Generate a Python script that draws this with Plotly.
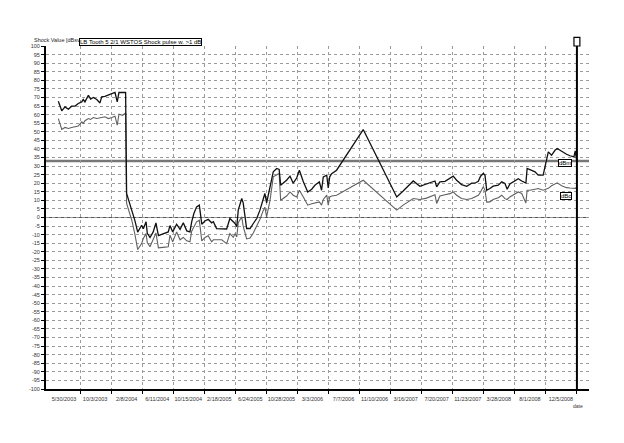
import plotly.graph_objects as go

# ---------------- data ----------------
dates = [
    "2003-03-03", "2003-03-17", "2003-03-30", "2003-04-13", "2003-04-26", "2003-05-10", "2003-05-23",
    "2003-06-06", "2003-06-12", "2003-06-19", "2003-07-03", "2003-07-12", "2003-07-23", "2003-08-06",
    "2003-08-19", "2003-08-26", "2003-09-08", "2003-09-22", "2003-10-06", "2003-10-19", "2003-10-28",
    "2003-11-04", "2003-11-19", "2003-12-01", "2003-12-05", "2003-12-26", "2004-01-08", "2004-01-19",
    "2004-02-04", "2004-02-11", "2004-02-22", "2004-02-27", "2004-03-09", "2004-03-22", "2004-04-02",
    "2004-04-12", "2004-04-25", "2004-05-09", "2004-05-22", "2004-05-29", "2004-06-09", "2004-06-25",
    "2004-07-09", "2004-07-22", "2004-08-05", "2004-08-18", "2004-08-25", "2004-09-03", "2004-09-14",
    "2004-09-25", "2004-10-05", "2004-10-18", "2004-10-31", "2004-11-14", "2004-11-21", "2004-12-04",
    "2004-12-25", "2005-01-14", "2005-01-27", "2005-02-10", "2005-02-17", "2005-02-24", "2005-03-02",
    "2005-03-16", "2005-03-22", "2005-04-05", "2005-04-19", "2005-05-02", "2005-05-16", "2005-05-29",
    "2005-06-12", "2005-06-18", "2005-06-25", "2005-07-09", "2005-07-22", "2005-08-05", "2005-08-15",
    "2005-08-21", "2005-09-01", "2005-09-14", "2005-09-28", "2005-10-11", "2005-10-25", "2005-11-05",
    "2005-11-21", "2005-12-09", "2005-12-25", "2006-01-07", "2006-01-25", "2006-02-03", "2006-02-10",
    "2006-02-24", "2006-03-02", "2006-03-08", "2006-03-16", "2006-04-05", "2006-07-22", "2006-12-05",
    "2006-12-31", "2007-02-10", "2007-03-09", "2007-04-05", "2007-05-09", "2007-05-16", "2007-05-29",
    "2007-06-19", "2007-07-09", "2007-07-22", "2007-08-05", "2007-08-25", "2007-09-15", "2007-10-05",
    "2007-10-18", "2007-11-01", "2007-11-10", "2007-11-21", "2007-11-28", "2007-12-05", "2007-12-18",
    "2007-12-31", "2008-01-21", "2008-02-04", "2008-02-17", "2008-02-26", "2008-03-08", "2008-03-28",
    "2008-04-11", "2008-04-25", "2008-05-12", "2008-05-17", "2008-05-28", "2008-06-18", "2008-07-01",
    "2008-07-21", "2008-08-01", "2008-08-11", "2008-08-24", "2008-09-07", "2008-09-16", "2008-10-04",
    "2008-10-24", "2008-11-07", "2008-11-23", "2008-11-28", "2008-12-04",
]

dbm = [
    67.8, 62.2, 64.5, 63.1, 64.9, 65.0, 66.5,
    67.4, 68.8, 67.4, 71.3, 69.0, 70.0, 68.8,
    66.8, 70.3, 70.6, 71.3, 72.3, 72.9, 67.4,
    72.9, 73.0, 72.9, 14.0, 4.3, -2.0, -8.5,
    -4.5, -6.5, -2.5, -9.2, -11.7, -8.4, -3.1,
    -10.6, -9.8, -8.8, -8.4, -4.7, -8.4, -3.9,
    -6.9, -3.1, -7.8, -8.4, -2.5, 2.3, 6.2,
    7.2, -3.9, -2.0, -1.0, -3.1, -2.5, -6.5,
    -6.7, -6.7, -0.6, -2.5, -3.5, -5.4, 4.3,
    11.1, 8.5, -6.4, -6.4, -3.5, -0.6, 4.3,
    11.1, 14.0, 8.5, 17.9, 26.6, 28.6, 28.0,
    18.8, 20.0, 21.7, 24.1, 20.0, 23.0, 27.6,
    20.8, 14.9, 16.5, 18.8, 20.8, 15.9, 23.7,
    24.7, 17.2, 23.7, 25.5, 27.6, 51.3, 12.0,
    15.5, 21.3, 18.2, 19.5, 21.3, 17.9, 20.8,
    21.1, 22.7, 24.1, 21.7, 19.2, 18.2, 20.0,
    20.0, 21.1, 24.1, 25.7, 24.7, 15.9, 16.9,
    18.3, 18.8, 20.8, 19.8, 16.5, 19.5, 21.3,
    22.6, 21.3, 20.1, 28.6, 28.0, 26.6, 24.7,
    24.7, 31.8, 38.3, 36.3, 39.2, 40.2, 38.5,
    36.9, 36.0, 35.3, 38.8, 33.4,
]

dbc = [
    57.7, 51.3, 52.5, 51.9, 52.5, 52.9, 53.3,
    55.8, 54.9, 56.4, 57.7, 57.2, 58.3, 57.7,
    58.3, 58.3, 58.7, 57.7, 58.3, 59.1, 53.8,
    60.2, 59.6, 61.0, 8.2, -1.6, -10.0, -18.7,
    -15.2, -12.2, -9.4, -14.6, -17.1, -13.0, -9.0,
    -17.7, -17.3, -17.3, -17.1, -10.3, -14.2, -8.4,
    -13.0, -11.6, -13.6, -14.2, -8.0, -5.5, -2.5,
    -1.6, -13.6, -11.6, -10.6, -14.2, -13.0, -13.0,
    -13.0, -15.2, -9.4, -11.6, -9.4, -11.3, -3.0,
    0.4, -5.0, -12.5, -12.0, -9.0, -5.0, -1.0,
    4.3, 6.0, 0.4, 10.1, 23.7, 25.0, 25.7,
    10.1, 11.0, 12.5, 14.9, 13.0, 12.0, 15.9,
    12.0, 7.2, 8.0, 8.5, 9.1, 7.2, 10.5,
    13.0, 7.2, 12.0, 12.5, 13.0, 21.7, 4.3,
    7.2, 11.1, 10.5, 11.3, 13.3, 8.2, 12.5,
    13.3, 13.9, 14.9, 13.0, 11.1, 10.5, 11.1,
    12.0, 13.0, 14.9, 17.9, 16.0, 9.0, 9.1,
    10.5, 11.5, 13.0, 11.0, 10.5, 12.0, 13.5,
    14.9, 14.0, 8.5, 15.9, 15.9, 16.5, 16.9,
    15.9, 16.5, 17.0, 18.5, 19.5, 20.2, 18.5,
    17.4, 17.2, 17.0, 17.0, 17.5,
]

tick_dates = [
    "2003-05-30", "2003-10-03", "2004-02-08", "2004-06-11", "2004-10-15", "2005-02-18",
    "2005-06-24", "2005-10-28", "2006-03-03", "2006-07-07", "2006-11-10", "2007-03-16",
    "2007-07-20", "2007-11-23", "2008-03-28", "2008-08-01", "2008-12-05",
]
tick_labels = [
    "5/30/2003", "10/3/2003", "2/8/2004", "6/11/2004", "10/15/2004", "2/18/2005",
    "6/24/2005", "10/28/2005", "3/3/2006", "7/7/2006", "11/10/2006", "3/16/2007",
    "7/20/2007", "11/23/2007", "3/28/2008", "8/1/2008", "12/5/2008",
]
y_ticks = list(range(100, -101, -5))
y_labels = [str(v) for v in y_ticks]

alarm_level = 33
cursor_date = "2008-12-05"
x_range = ["2003-01-12", "2009-01-23"]

title_text = "LB Tooth 5 2/1 WSTOS Shock pulse w. >1 dB"
y_title = "Shock Value [dBsv]"

# ---------------- figure ----------------
FONT = "Liberation Sans, Arial, sans-serif"
fig = go.Figure()

fig.add_trace(go.Scatter(x=dates, y=dbc, mode="lines", name="dBc",
                         line=dict(color="#606060", width=1.1), showlegend=False))
fig.add_trace(go.Scatter(x=dates, y=dbm, mode="lines", name="dBm",
                         line=dict(color="#111111", width=1.3), showlegend=False))

# reference lines
fig.add_shape(type="line", xref="paper", x0=0, x1=1, yref="y", y0=0, y1=0,
              line=dict(color="#555555", width=1), layer="below")
fig.add_shape(type="line", xref="paper", x0=0, x1=1, yref="y", y0=alarm_level, y1=alarm_level,
              line=dict(color="#777777", width=2.5), layer="below")
# cursor
fig.add_shape(type="line", xref="x", x0=cursor_date, x1=cursor_date, yref="paper", y0=0, y1=1,
              line=dict(color="#000000", width=2))
fig.add_shape(type="rect", xref="x", x0="2008-11-23", x1="2008-12-17", yref="paper", y0=1.0, y1=1.025,
              line=dict(color="#000000", width=1.2), fillcolor="white")

# end labels
fig.add_annotation(x="2008-10-18", y=31.6, xref="x", yref="y", text="dBm", showarrow=False,
                   font=dict(size=6, color="#000", family=FONT), bordercolor="#000",
                   borderwidth=1, borderpad=0, bgcolor="white")
fig.add_annotation(x="2008-10-20", y=12.4, xref="x", yref="y", text="dBc", showarrow=False,
                   font=dict(size=6, color="#000", family=FONT), bordercolor="#000",
                   borderwidth=1, borderpad=0, bgcolor="white")

# titles
fig.add_annotation(x=-0.026, y=1.018, xref="paper", yref="paper", text=y_title, showarrow=False,
                   xanchor="left", yanchor="middle", font=dict(size=5.5, color="#222", family=FONT))
fig.add_annotation(x=0.061, y=1.013, xref="paper", yref="paper", text=title_text, showarrow=False,
                   xanchor="left", yanchor="middle", font=dict(size=6, color="#000", family=FONT),
                   bordercolor="#000", borderwidth=1, borderpad=0, bgcolor="white")
fig.add_annotation(x=0.98, y=-0.034, xref="paper", yref="paper", text="date", showarrow=False,
                   xanchor="center", yanchor="top", font=dict(size=5, color="#333", family=FONT))

grid = dict(showgrid=True, gridcolor="#9a9a9a", gridwidth=1, griddash="3px,3px")

fig.update_xaxes(type="date", range=x_range, tickmode="array", tickvals=tick_dates,
                 ticktext=tick_labels, tickangle=0, ticks="outside", ticklen=3, tickcolor="#000",
                 tickfont=dict(size=5.5, color="#333", family=FONT), ticklabelshift=-16,
                 showline=True, linecolor="#000", linewidth=2, zeroline=False,
                 fixedrange=True, **grid)
fig.update_yaxes(range=[-100, 100], tickmode="array", tickvals=y_ticks, ticktext=y_labels,
                 ticks="outside", ticklen=3, tickcolor="#000",
                 tickfont=dict(size=5.5, color="#333", family=FONT),
                 showline=True, linecolor="#000", linewidth=2, zeroline=False,
                 fixedrange=True, **grid)

# page body adds an 8px margin, so the figure is offset by 8px; compensate
fig.update_layout(width=608, height=427, margin=dict(l=38, r=27, t=38, b=46),
                  paper_bgcolor="white", plot_bgcolor="white", showlegend=False,
                  font=dict(family=FONT))

fig.write_html("out.html", config={"displayModeBar": False})
